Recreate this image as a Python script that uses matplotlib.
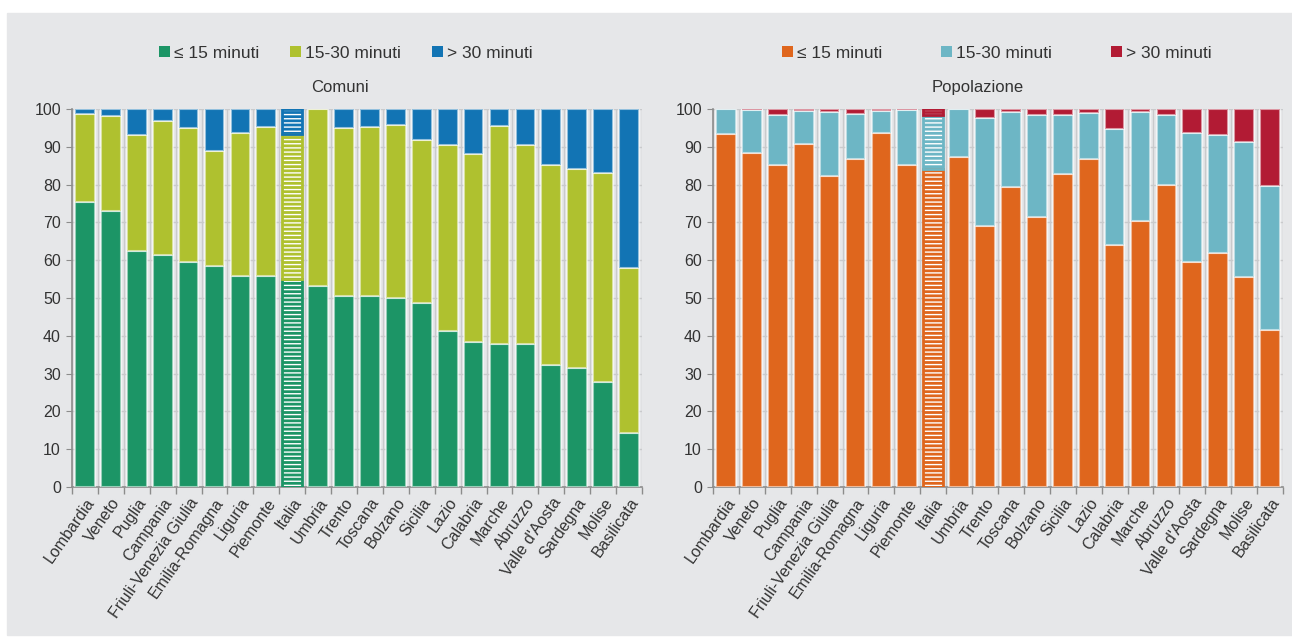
import matplotlib.pyplot as plt
from matplotlib.patches import Patch, Rectangle

plt.rcParams['font.family'] = ['Liberation Sans', 'DejaVu Sans']

regioni = ["Lombardia", "Veneto", "Puglia", "Campania", "Friuli-Venezia Giulia",
           "Emilia-Romagna", "Liguria", "Piemonte", "Italia", "Umbria", "Trento",
           "Toscana", "Bolzano", "Sicilia", "Lazio", "Calabria", "Marche", "Abruzzo",
           "Valle d'Aosta", "Sardegna", "Molise", "Basilicata"]

# Comuni (%)
com_15 = [75.5, 72.9, 62.5, 61.4, 59.4, 58.5, 55.9, 55.9, 55.0, 53.3, 50.5,
          50.5, 49.9, 48.6, 41.4, 38.3, 37.7, 37.7, 32.4, 31.5, 27.9, 14.4]
com_15_30 = [23.1, 25.3, 30.5, 35.5, 35.5, 30.3, 37.7, 39.3, 38.3, 46.7, 44.6,
             44.7, 45.8, 43.2, 49.2, 49.8, 57.9, 52.9, 52.7, 52.6, 55.2, 43.6]
com_30 = [1.4, 1.8, 7.0, 3.1, 5.1, 11.2, 6.4, 4.8, 6.7, 0.0, 4.9,
          4.8, 4.3, 8.2, 9.4, 11.9, 4.4, 9.4, 14.9, 15.9, 16.9, 42.0]

# Popolazione (%)
pop_15 = [93.5, 88.4, 85.3, 90.7, 82.3, 86.7, 93.6, 85.3, 84.2, 87.4, 69.1,
          79.4, 71.5, 82.9, 86.7, 64.1, 70.4, 79.9, 59.5, 61.9, 55.6, 41.5]
pop_15_30 = [6.4, 11.4, 13.2, 8.8, 17.0, 12.1, 5.9, 14.4, 14.2, 12.6, 28.4,
             19.8, 26.8, 15.4, 12.3, 30.7, 28.9, 18.6, 34.2, 31.1, 35.7, 38.2]
pop_30 = [0.1, 0.2, 1.5, 0.5, 0.7, 1.2, 0.5, 0.3, 1.6, 0.0, 2.5,
          0.8, 1.7, 1.7, 1.0, 5.2, 0.7, 1.5, 6.3, 7.0, 8.7, 20.3]

legend_labels = ["≤ 15 minuti", "15-30 minuti", "> 30 minuti"]
colori_com = ["#1c9566", "#afc12f", "#1274b4"]
colori_pop = ["#df661d", "#6db6c5", "#b21b34"]

bg = "#e6e7e9"
txt = "#333333"
W, H = 1292, 639

fig = plt.figure(figsize=(W / 100, H / 100), dpi=100)
fig.patch.set_facecolor("white")
fig.patches.append(Rectangle((7 / W, 4 / H), 1 - 7 / W, (H - 13 - 4) / H,
                             transform=fig.transFigure, color=bg, zorder=-10))

bottom = (H - 487) / H
height = (487 - 109) / H
ax1 = fig.add_axes([72 / W, bottom, 570 / W, height])
ax2 = fig.add_axes([713 / W, bottom, 570 / W, height])


def draw(ax, serie, colori, titolo, title_dx, leg_dx, colspace):
    ax.set_facecolor(bg)
    x = list(range(len(regioni)))
    base = [0.0] * len(regioni)
    for vals, col in zip(serie, colori):
        bars = ax.bar(x, vals, bottom=base, width=0.76, color=col,
                      edgecolor=(1, 1, 1, 0.55), linewidth=1.5, zorder=3)
        # barra Italia tratteggiata
        i = regioni.index("Italia")
        p = bars[i]
        p.set_hatch("----")
        p.set_edgecolor("white")
        p.set_linewidth(0)
        ax.bar(i, vals[i], bottom=base[i], width=0.76, fill=False,
               edgecolor=col, linewidth=2, zorder=4)
        base = [b + v for b, v in zip(base, vals)]

    ax.set_xlim(-0.5, len(regioni) - 0.5)
    ax.set_ylim(0, 100)
    ax.set_yticks(range(0, 101, 10))
    ax.set_xticks(x)
    ax.set_xticklabels(regioni, rotation=55, ha="right", rotation_mode="anchor",
                       fontsize=11.5, color=txt)
    ax.set_xticks([i + 0.5 for i in range(-1, len(regioni))], minor=True)
    ax.tick_params(axis="x", which="major", length=0, pad=6)
    ax.tick_params(axis="x", which="minor", length=5, color="#8c8c8c", width=1)
    ax.tick_params(axis="y", length=4, color="#8c8c8c", labelsize=11.5,
                   labelcolor=txt, pad=4)
    ax.grid(axis="y", color="#c9cacc", linewidth=1, zorder=1)
    ax.grid(axis="x", which="minor", color="#c9cacc", linewidth=1, zorder=1)
    ax.set_axisbelow(True)
    for s in ["top", "right"]:
        ax.spines[s].set_visible(False)
    for s in ["left", "bottom"]:
        ax.spines[s].set_color("#8c8c8c")
        ax.spines[s].set_linewidth(1.2)
    ax.text(0.5 + title_dx / 570, 1.056, titolo, transform=ax.transAxes,
            ha="center", va="center", fontsize=12, color=txt)

    handles = [Patch(facecolor=c, edgecolor="none") for c in colori]
    cx = (ax.get_position().x0 + ax.get_position().x1) / 2
    fig.legend(handles, legend_labels, loc="center", ncol=3, frameon=False,
               bbox_to_anchor=(cx + leg_dx / W, 1 - 53 / H), fontsize=12.5,
               handlelength=0.6, handleheight=0.6, handletextpad=0.25,
               columnspacing=colspace, labelcolor=txt)


draw(ax1, [com_15, com_15_30, com_30], colori_com, "Comuni", -17, -11, 1.8)
draw(ax2, [pop_15, pop_15_30, pop_30], colori_pop, "Popolazione", -20, -1, 3.4)

plt.savefig("out.png", dpi=100)
